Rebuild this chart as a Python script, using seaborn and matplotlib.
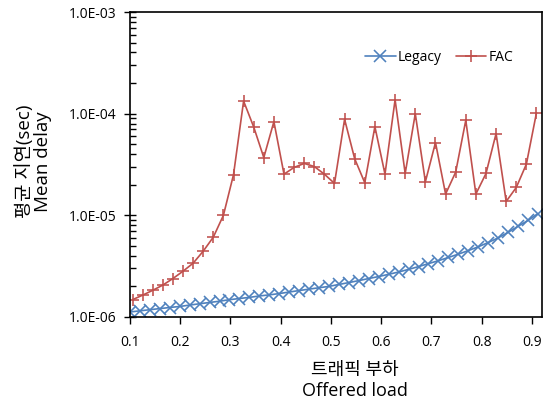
import numpy as np
import pandas as pd
import matplotlib
matplotlib.use("Agg")
import matplotlib.pyplot as plt
import seaborn as sns
from matplotlib.ticker import LogLocator, FixedLocator, NullFormatter, FuncFormatter

# ---- data ----
legacy_x = [round(0.1 + 0.0198 * i, 4) for i in range(42)]
legacy_y = [1.12e-6, 1.15e-6, 1.18e-6, 1.21e-6, 1.24e-6, 1.27e-6, 1.31e-6, 1.35e-6,
            1.39e-6, 1.43e-6, 1.48e-6, 1.52e-6, 1.56e-6, 1.61e-6, 1.65e-6, 1.70e-6,
            1.76e-6, 1.82e-6, 1.88e-6, 1.94e-6, 2.00e-6, 2.09e-6, 2.18e-6, 2.28e-6,
            2.39e-6, 2.50e-6, 2.63e-6, 2.77e-6, 2.94e-6, 3.13e-6, 3.35e-6, 3.58e-6,
            3.85e-6, 4.15e-6, 4.50e-6, 4.90e-6, 5.40e-6, 6.00e-6, 6.80e-6, 7.80e-6,
            8.90e-6, 1.04e-5]

fac_x = [round(0.105 + 0.0201 * i, 4) for i in range(41)]
fac_y = [1.48e-6, 1.64e-6, 1.83e-6, 2.06e-6, 2.39e-6, 2.82e-6, 3.38e-6, 4.44e-6,
         6.1e-6, 1.0e-5, 2.51e-5, 1.33e-4, 7.4e-5, 3.7e-5, 8.35e-5, 2.54e-5,
         2.96e-5, 3.24e-5, 3.02e-5, 2.54e-5, 2.06e-5, 8.8e-5, 3.6e-5, 2.09e-5,
         7.46e-5, 2.54e-5, 1.37e-4, 2.58e-5, 1.0e-4, 2.14e-5, 5.2e-5, 1.62e-5,
         2.66e-5, 8.6e-5, 1.62e-5, 2.58e-5, 6.37e-5, 1.37e-5, 1.88e-5, 3.19e-5,
         1.02e-4]

series_names = ["Legacy", "FAC"]
x_ticks = [0.1, 0.2, 0.3, 0.4, 0.5, 0.6, 0.7, 0.8, 0.9]
y_ticks = [1e-6, 1e-5, 1e-4, 1e-3]

palette = {"Legacy": "#4F81BD", "FAC": "#C0504D"}
markers = {"Legacy": "x", "FAC": "+"}

df = pd.concat([
    pd.DataFrame({"load": legacy_x, "delay": legacy_y, "series": "Legacy"}),
    pd.DataFrame({"load": fac_x, "delay": fac_y, "series": "FAC"}),
], ignore_index=True)

sns.set_theme(style="ticks")
plt.rcParams["font.family"] = ["Open Sans", "Noto Sans CJK KR", "DejaVu Sans"]
plt.rcParams["text.color"] = "black"
plt.rcParams["axes.labelcolor"] = "black"
plt.rcParams["xtick.labelcolor"] = "black"
plt.rcParams["ytick.labelcolor"] = "black"

fig = plt.figure(figsize=(5.51, 4.05), dpi=100)
ax = fig.add_axes([130 / 551, 1 - 317 / 405, 412 / 551, 305 / 405])

sns.lineplot(data=df, x="load", y="delay", hue="series", style="series",
             hue_order=series_names, style_order=series_names,
             palette=palette, markers=markers, dashes=False, ax=ax,
             lw=1.2, markersize=8, markeredgewidth=1.15,
             estimator=None, sort=False)

# unfilled markers: draw them in the series colour
for line in ax.lines:
    line.set_markeredgecolor(line.get_color())
    line.set_markeredgewidth(1.15)

ax.set_yscale("log")
ax.set_ylim(1e-6, 1e-3)
ax.set_xlim(0.1, 0.92)

ax.yaxis.set_major_locator(FixedLocator(y_ticks))
ax.yaxis.set_major_formatter(FuncFormatter(lambda v, p: "%.1E" % v))
ax.yaxis.set_minor_locator(LogLocator(base=10, subs=np.arange(2, 10)))
ax.yaxis.set_minor_formatter(NullFormatter())
ax.xaxis.set_major_locator(FixedLocator(x_ticks))
ax.set_xticklabels([f"{t:.1f}" for t in x_ticks])

ax.tick_params(axis="y", which="major", direction="inout", length=8, width=1,
               labelsize=10, color="black", labelcolor="black", pad=6)
ax.tick_params(axis="y", which="minor", direction="in", length=4, width=1,
               color="black")
ax.tick_params(axis="x", which="major", direction="out", length=5, width=1,
               labelsize=10, color="black", labelcolor="black", pad=8)
ax.tick_params(axis="x", which="minor", bottom=False)

for s in ax.spines.values():
    s.set_color("black")
    s.set_linewidth(1.2)

ax.set_ylabel("평균 지연(sec)\nMean delay", fontsize=13.5, linespacing=1.0,
              color="black")
ax.yaxis.set_label_coords(-0.19, 0.51)
ax.set_xlabel("트래픽 부하\nOffered load", fontsize=13, linespacing=1.2,
              color="black")
ax.xaxis.set_label_coords(0.546, -0.145)
ax.xaxis.label.set_va("top")

handles, labels = ax.get_legend_handles_labels()
pairs = [(h, l) for h, l in zip(handles, labels) if l in series_names]
for h, _ in pairs:
    h.set_markeredgecolor(h.get_color())
    h.set_markeredgewidth(1.15)
ax.legend([p[0] for p in pairs], [p[1] for p in pairs],
          loc="center", bbox_to_anchor=(0.75, 0.85), ncol=2, frameon=False,
          fontsize=10, handlelength=2.2, handletextpad=0.15, columnspacing=1.0,
          labelcolor="black")

ax.set_facecolor("white")
fig.patch.set_facecolor("white")
fig.savefig("out.png", dpi=100)
